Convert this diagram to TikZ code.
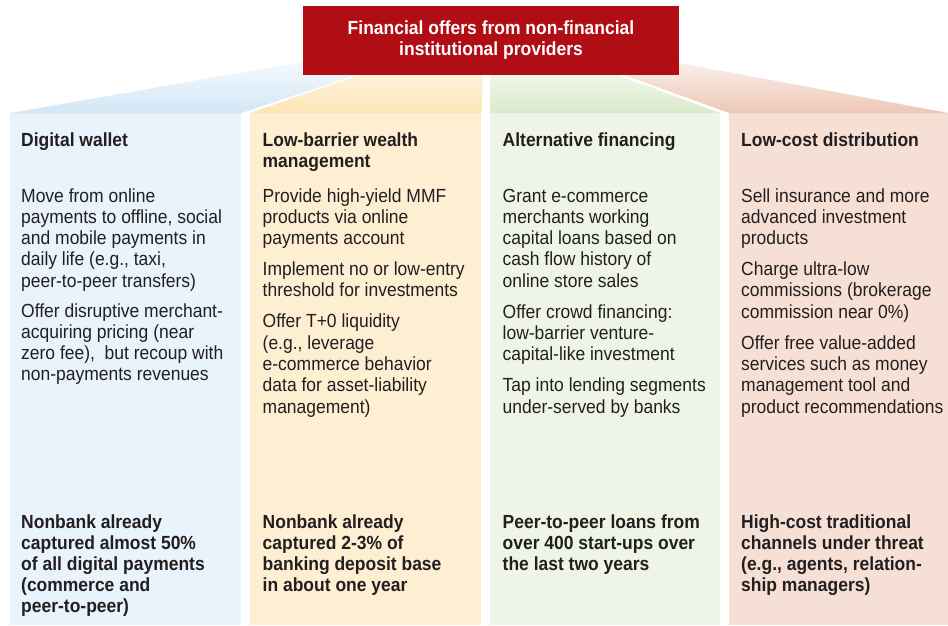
\documentclass[tikz,border=0pt]{standalone}
\usepackage{fontspec}
\setmainfont{Liberation Sans}[FakeStretch=0.92]
\usepackage{xcolor}
\usepackage{tikz}
\usetikzlibrary{positioning,calc}
\definecolor{offerred}{RGB}{176,13,21}
\definecolor{inktext}{RGB}{35,31,32}
\definecolor{walletblue}{RGB}{232,243,251}
\definecolor{walletfan}{RGB}{211,231,246}
\definecolor{wealthyellow}{RGB}{254,239,211}
\definecolor{wealthfan}{RGB}{253,228,180}
\definecolor{financegreen}{RGB}{239,245,230}
\definecolor{financefan}{RGB}{219,234,202}
\definecolor{distribpink}{RGB}{246,224,213}
\definecolor{distribfan}{RGB}{236,199,183}
% lines of a column text, first baseline on the node's base
\newcommand{\colLines}[1]{\begin{tabular}[t]{@{}l@{}}#1\end{tabular}}

\begin{document}
\begin{tikzpicture}[
    x=1pt, y=-1pt,
    column/.style={rectangle, inner sep=0pt, anchor=north west, minimum height=512pt},
    head/.style={anchor=base west, inner sep=0pt, text=inktext, font=\fontsize{19}{21}\selectfont\bfseries},
    body/.style={anchor=base west, inner sep=0pt, text=inktext, font=\fontsize{19}{21.3}\selectfont},
    foot/.style={head},
    title/.style={rectangle, fill=offerred, text=white, inner sep=0pt, minimum width=376pt, minimum height=69pt, align=center, font=\fontsize{19}{21}\selectfont\bfseries}
]
    \useasboundingbox (0,0) rectangle (948,625);

    % four columns
    \node[column, fill=walletblue, minimum width=231pt] (wallet) at (10,113) {};
    \node[column, fill=wealthyellow, minimum width=231pt] (wealth) at (250,113) {};
    \node[column, fill=financegreen, minimum width=230pt] (finance) at (490,113) {};
    \node[column, fill=distribpink, minimum width=219pt] (distrib) at (729,113) {};

    % fans up to the title
    \shade[top color=walletblue!50!white, bottom color=walletfan] (wallet.north west) -- (303,62) -- (394,62) -- (wallet.north east) -- cycle;
    \shade[top color=wealthyellow!50!white, bottom color=wealthfan] (wealth.north west) -- (396,62) -- (484,62) -- (wealth.north east) -- cycle;
    \shade[top color=financegreen!50!white, bottom color=financefan] (finance.north west) -- (490,62) -- (582,62) -- (finance.north east) -- cycle;
    \shade[top color=distribpink!50!white, bottom color=distribfan] (distrib.north west) -- (588,62) -- (674,62) -- (distrib.north east) -- cycle;

    \node[title] (offers) at (491,40.5) {Financial offers from non-financial\\institutional providers};

    % column texts
    \node[head] (walletHead) at ($(wallet.north west)+(11,33)$) {\colLines{Digital wallet}};
    \node[body] (walletBody) at ($(wallet.north west)+(11,89)$) {\colLines{Move from online\\payments to offline, social\\and mobile payments in\\daily life (e.g., taxi,\\peer-to-peer transfers)\\[8.5pt]Offer disruptive merchant-\\acquiring pricing (near\\zero fee),\ \ but recoup with\\non-payments revenues}};
    \node[foot] (walletFoot) at ($(wallet.north west)+(11,415)$) {\colLines{Nonbank already\\captured almost 50\%\\of all digital payments\\(commerce and\\peer-to-peer)}};

    \node[head] (wealthHead) at ($(wealth.north west)+(12.5,33)$) {\colLines{Low-barrier wealth\\management}};
    \node[body] (wealthBody) at ($(wealth.north west)+(12.5,89)$) {\colLines{Provide high-yield MMF\\products via online\\payments account\\[9.7pt]Implement no or low-entry\\threshold for investments\\[9.7pt]Offer T+0 liquidity\\(e.g., leverage\\e-commerce behavior\\data for asset-liability\\management)}};
    \node[foot] (wealthFoot) at ($(wealth.north west)+(12.5,415)$) {\colLines{Nonbank already\\captured 2-3\% of\\banking deposit base\\in about one year}};

    \node[head] (financeHead) at ($(finance.north west)+(12.5,33)$) {\colLines{Alternative financing}};
    \node[body] (financeBody) at ($(finance.north west)+(12.5,89)$) {\colLines{Grant e-commerce\\merchants working\\capital loans based on\\cash flow history of\\online store sales\\[9.7pt]Offer crowd financing:\\low-barrier venture-\\capital-like investment\\[9.7pt]Tap into lending segments\\under-served by banks}};
    \node[foot] (financeFoot) at ($(finance.north west)+(12.5,415)$) {\colLines{Peer-to-peer loans from\\over 400 start-ups over\\the last two years}};

    \node[head] (distribHead) at ($(distrib.north west)+(12,33)$) {\colLines{Low-cost distribution}};
    \node[body] (distribBody) at ($(distrib.north west)+(12,89)$) {\colLines{Sell insurance and more\\advanced investment\\products\\[9.7pt]Charge ultra-low\\commissions (brokerage\\commission near 0\%)\\[9.7pt]Offer free value-added\\services such as money\\management tool and\\product recommendations}};
    \node[foot] (distribFoot) at ($(distrib.north west)+(12,415)$) {\colLines{High-cost traditional\\channels under threat\\(e.g., agents, relation-\\ship managers)}};
\end{tikzpicture}
\end{document}
